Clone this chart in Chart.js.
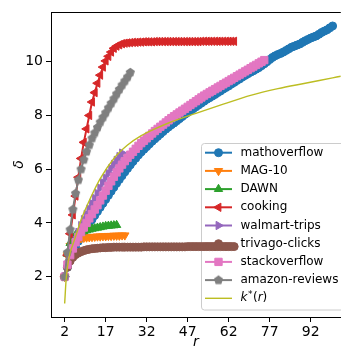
<!DOCTYPE html>
<html>
<head>
<meta charset="utf-8">
<script src="https://cdn.jsdelivr.net/npm/chart.js@4"></script>
<style>
  html, body { margin: 0; padding: 0; overflow: hidden; background: #fff; }
  canvas { display: block; }
</style>
</head>
<body>
<canvas id="chart" width="347" height="347"></canvas>
<script>
// delta per dataset, first value at r = 2, then one value per integer r
const R_START = 2;

const mathoverflow = [
  2.0, 2.35, 2.65, 2.9, 3.12, 3.32, 3.5, 3.67, 3.83, 3.98,
  4.13, 4.28, 4.43, 4.58, 4.73, 4.88, 5.03, 5.18, 5.33, 5.48,
  5.62, 5.76, 5.9, 6.03, 6.16, 6.29, 6.41, 6.53, 6.64, 6.74,
  6.84, 6.94, 7.04, 7.13, 7.22, 7.31, 7.4, 7.49, 7.57, 7.65,
  7.72, 7.8, 7.88, 7.96, 8.04, 8.11, 8.18, 8.25, 8.32, 8.39,
  8.46, 8.53, 8.6, 8.66, 8.72, 8.78, 8.85, 8.91, 8.98, 9.04,
  9.1, 9.17, 9.23, 9.3, 9.36, 9.43, 9.49, 9.55, 9.61, 9.66,
  9.72, 9.78, 9.85, 9.92, 10.0, 10.08, 10.16, 10.22, 10.27, 10.31,
  10.36, 10.42, 10.48, 10.54, 10.58, 10.62, 10.66, 10.72, 10.78, 10.83,
  10.88, 10.92, 10.96, 11.02, 11.09, 11.14, 11.19, 11.26, 11.33
];
const mag10 = [
  2.0, 2.8, 3.15, 3.3, 3.37, 3.41, 3.43, 3.45, 3.46, 3.47,
  3.48, 3.49, 3.5, 3.5, 3.51, 3.51, 3.52, 3.52, 3.53, 3.53,
  3.53, 3.54, 3.54
];
const dawn = [
  2.0, 2.85, 3.25, 3.45, 3.55, 3.61, 3.65, 3.69, 3.72, 3.75,
  3.78, 3.8, 3.82, 3.84, 3.86, 3.88, 3.89, 3.9, 3.91, 3.92
];
const cooking = [
  2.0, 2.8, 3.6, 4.3, 5.0, 5.7, 6.4, 7.0, 7.5, 8.0,
  8.5, 8.85, 9.2, 9.5, 9.8, 10.03, 10.2, 10.36, 10.5, 10.58,
  10.63, 10.67, 10.69, 10.7, 10.71, 10.72, 10.72, 10.73, 10.73, 10.74,
  10.74, 10.74, 10.74, 10.75, 10.75, 10.75, 10.75, 10.75, 10.75, 10.75,
  10.75, 10.75, 10.75, 10.75, 10.75, 10.75, 10.75, 10.75, 10.75, 10.75,
  10.76, 10.76, 10.76, 10.76, 10.76, 10.76, 10.76, 10.76, 10.76, 10.76,
  10.76, 10.76, 10.76
];
const walmartTrips = [
  2.0, 2.45, 2.78, 3.05, 3.35, 3.65, 3.9, 4.12, 4.32, 4.52,
  4.72, 4.92, 5.1, 5.3, 5.5, 5.68, 5.85, 6.02, 6.18, 6.33,
  6.47, 6.6
];
const trivagoClicks = [
  2.0, 2.35, 2.58, 2.72, 2.82, 2.88, 2.93, 2.97, 3.0, 3.02,
  3.04, 3.05, 3.06, 3.07, 3.08, 3.08, 3.09, 3.09, 3.1, 3.1,
  3.1, 3.1, 3.1, 3.1, 3.1, 3.1, 3.1, 3.1, 3.1, 3.11,
  3.11, 3.11, 3.11, 3.11, 3.11, 3.11, 3.11, 3.11, 3.11, 3.11,
  3.11, 3.11, 3.11, 3.11, 3.11, 3.12, 3.12, 3.12, 3.12, 3.12,
  3.12, 3.12, 3.12, 3.12, 3.12, 3.12, 3.12, 3.12, 3.12, 3.12,
  3.12, 3.12, 3.12
];
const stackoverflow = [
  2.0, 2.45, 2.8, 3.05, 3.28, 3.48, 3.66, 3.83, 4.0, 4.17,
  4.33, 4.5, 4.66, 4.84, 5.02, 5.2, 5.38, 5.55, 5.72, 5.88,
  6.03, 6.17, 6.3, 6.42, 6.54, 6.65, 6.76, 6.87, 6.97, 7.06,
  7.15, 7.24, 7.33, 7.42, 7.5, 7.58, 7.66, 7.74, 7.82, 7.9,
  7.97, 8.04, 8.11, 8.18, 8.25, 8.32, 8.39, 8.46, 8.53, 8.6,
  8.67, 8.74, 8.8, 8.86, 8.92, 8.98, 9.04, 9.1, 9.16, 9.22,
  9.28, 9.34, 9.4, 9.46, 9.52, 9.58, 9.64, 9.7, 9.76, 9.82,
  9.88, 9.94, 10.0, 10.06
];
const amazonReviews = [
  2.0, 2.9, 3.75, 4.5, 5.1, 5.6, 6.0, 6.35, 6.65, 6.9,
  7.15, 7.35, 7.55, 7.75, 7.93, 8.1, 8.28, 8.45, 8.62, 8.8,
  8.97, 9.13, 9.28, 9.43, 9.6
];
// k*(r) curve, read at a few r values
const kStarR = [2, 2.5, 3, 4, 5, 6, 8, 10, 12, 15, 20, 25, 30, 35, 40, 50, 60, 70, 80, 90, 100, 103];
const kStarDelta = [1.0, 1.85, 2.35, 2.9, 3.2, 3.5, 4.12, 4.6, 5.05, 5.65, 6.4, 6.9, 7.25, 7.5, 7.72, 8.08, 8.42, 8.75, 9.0, 9.2, 9.4, 9.46];

const xTicks = [2, 17, 32, 47, 62, 77, 92];
const yTicks = [2, 4, 6, 8, 10];

const FONT = "'DejaVu Sans', sans-serif";

// pentagon marker for amazon-reviews (no built-in pentagon in Chart.js)
function makePentagon(color, r) {
  const c = document.createElement('canvas');
  const s = Math.ceil(r * 2 + 3);
  c.width = s; c.height = s;
  const g = c.getContext('2d');
  g.beginPath();
  for (let i = 0; i < 5; i++) {
    const a = -Math.PI / 2 + i * 2 * Math.PI / 5;
    const px = s / 2 + r * Math.cos(a), py = s / 2 + r * Math.sin(a);
    if (i === 0) g.moveTo(px, py); else g.lineTo(px, py);
  }
  g.closePath();
  g.fillStyle = color;
  g.fill();
  return c;
}

function toPoints(values) {
  return values.map((d, i) => ({ x: R_START + i, y: d }));
}

function series(label, values, color, style, rotation, radius) {
  return {
    label: label,
    data: toPoints(values),
    borderColor: color,
    backgroundColor: color,
    pointBackgroundColor: color,
    pointBorderColor: color,
    pointBorderWidth: 1,
    pointStyle: style,
    pointRotation: rotation,
    pointRadius: radius,
    borderWidth: 2,
    showLine: true,
    tension: 0
  };
}

const datasets = [
  series('mathoverflow', mathoverflow, '#1f77b4', 'circle', 0, 4),
  series('MAG-10', mag10, '#ff7f0e', 'triangle', 180, 4.8),
  series('DAWN', dawn, '#2ca02c', 'triangle', 0, 4.8),
  series('cooking', cooking, '#d62728', 'triangle', 270, 4.8),
  series('walmart-trips', walmartTrips, '#9467bd', 'triangle', 90, 4.8),
  series('trivago-clicks', trivagoClicks, '#8c564b', 'circle', 0, 4),
  series('stackoverflow', stackoverflow, '#e377c2', 'rect', 0, 5.2),
  series('amazon-reviews', amazonReviews, '#7f7f7f', makePentagon('#7f7f7f', 4.8), 0, 4.8),
  {
    label: 'k*(r)',
    data: kStarR.map((r, i) => ({ x: r, y: kStarDelta[i] })),
    borderColor: '#bcbd22',
    backgroundColor: '#bcbd22',
    borderWidth: 1.4,
    pointRadius: 0,
    showLine: true,
    cubicInterpolationMode: 'monotone'
  }
];
// later datasets on top, like matplotlib
datasets.forEach((d, i) => { d.order = datasets.length - i; });

// legend box inside the axes, lower right; drawn under the data
const legendBox = {
  id: 'legendBox',
  beforeDatasetsDraw(chart) {
    const ctx = chart.ctx;
    const x0 = 201.5, y0 = 143.5, w = 170, h = 166.5, rad = 3;
    ctx.save();
    ctx.beginPath();
    ctx.moveTo(x0 + rad, y0);
    ctx.lineTo(x0 + w, y0);
    ctx.lineTo(x0 + w, y0 + h);
    ctx.lineTo(x0 + rad, y0 + h);
    ctx.arcTo(x0, y0 + h, x0, y0 + h - rad, rad);
    ctx.lineTo(x0, y0 + rad);
    ctx.arcTo(x0, y0, x0 + rad, y0, rad);
    ctx.closePath();
    ctx.fillStyle = 'rgba(255,255,255,0.8)';
    ctx.fill();
    ctx.strokeStyle = '#cccccc';
    ctx.lineWidth = 1;
    ctx.stroke();

    chart.data.datasets.forEach((ds, i) => {
      const y = 152.7 + i * 18.2;
      ctx.strokeStyle = ds.borderColor;
      ctx.lineWidth = ds.borderWidth;
      ctx.beginPath();
      ctx.moveTo(205, y);
      ctx.lineTo(232, y);
      ctx.stroke();
      if (ds.pointRadius > 0) {
        ctx.fillStyle = ds.backgroundColor;
        ctx.strokeStyle = ds.borderColor;
        ctx.lineWidth = 1;
        Chart.helpers.drawPoint(ctx, {
          pointStyle: ds.pointStyle,
          rotation: ds.pointRotation,
          radius: ds.pointRadius,
          borderWidth: 1
        }, 218.5, y);
      }
      ctx.fillStyle = '#000';
      ctx.textBaseline = 'middle';
      ctx.textAlign = 'left';
      if (ds.label === 'k*(r)') {
        let x = 240.5;
        ctx.font = 'italic 12px ' + FONT;
        ctx.fillText('k', x, y); x += ctx.measureText('k').width + 0.5;
        ctx.font = '9px ' + FONT;
        ctx.fillText('*', x, y - 4); x += ctx.measureText('*').width + 0.5;
        ctx.font = '12px ' + FONT;
        ctx.fillText('(', x, y); x += ctx.measureText('(').width;
        ctx.font = 'italic 12px ' + FONT;
        ctx.fillText('r', x, y); x += ctx.measureText('r').width;
        ctx.font = '12px ' + FONT;
        ctx.fillText(')', x, y);
      } else {
        ctx.font = '12px ' + FONT;
        ctx.fillText(ds.label, 240.5, y);
      }
    });
    ctx.restore();
  },
  afterDraw(chart) {
    // top spine
    const a = chart.chartArea, ctx = chart.ctx;
    ctx.save();
    ctx.strokeStyle = '#000';
    ctx.lineWidth = 1;
    ctx.beginPath();
    ctx.moveTo(a.left, a.top + 0.5);
    ctx.lineTo(a.right, a.top + 0.5);
    ctx.stroke();
    ctx.restore();
  }
};

new Chart(document.getElementById('chart'), {
  type: 'scatter',
  data: { datasets: datasets },
  options: {
    responsive: false,
    animation: false,
    devicePixelRatio: 1,
    layout: { padding: { top: 12, right: 0, bottom: 0, left: 0 } },
    plugins: {
      legend: { display: false },
      tooltip: { enabled: false }
    },
    scales: {
      x: {
        type: 'linear',
        min: -3,
        max: 103,
        afterFit(scale) { scale.height = 30; },
        afterBuildTicks(scale) { scale.ticks = xTicks.map(v => ({ value: v })); },
        grid: { drawOnChartArea: false, tickLength: 5, tickColor: '#000' },
        border: { color: '#000', width: 1 },
        ticks: { color: '#000', padding: 2, maxRotation: 0, font: { family: FONT, size: 14 } },
        title: {
          display: true,
          text: 'r',
          color: '#000',
          padding: { top: 0, bottom: -4 },
          font: { family: FONT, size: 14, style: 'italic' }
        }
      },
      y: {
        type: 'linear',
        min: 0.5,
        max: 11.85,
        afterFit(scale) { scale.width = 51; },
        afterBuildTicks(scale) { scale.ticks = yTicks.map(v => ({ value: v })); },
        grid: { drawOnChartArea: false, tickLength: 5, tickColor: '#000' },
        border: { color: '#000', width: 1 },
        ticks: { color: '#000', padding: 3, font: { family: FONT, size: 14 } },
        title: {
          display: true,
          text: 'δ',
          color: '#000',
          padding: { top: 11, bottom: 0 },
          font: { family: FONT, size: 14, style: 'italic' }
        }
      }
    }
  },
  plugins: [legendBox]
});
</script>
</body>
</html>
